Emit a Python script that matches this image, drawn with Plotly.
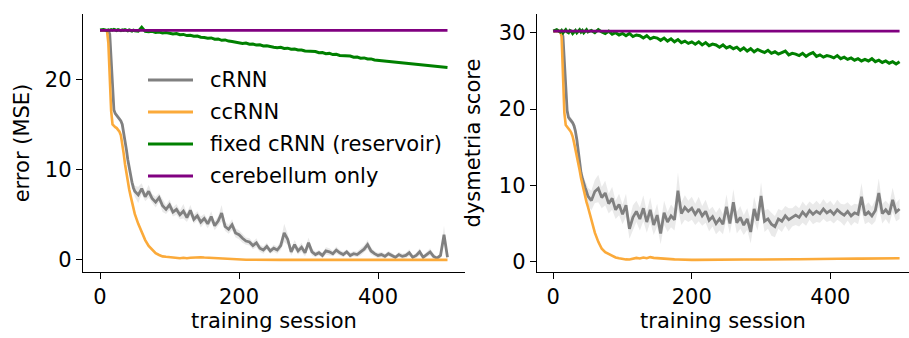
import plotly.graph_objects as go

# ---------------- data ----------------
session = [0, 5, 10] + list(range(12, 51, 2)) + list(range(55, 501, 5))

series_names = ["cRNN", "ccRNN", "fixed cRNN (reservoir)", "cerebellum only"]
series_colors = ["#808080", "#FBAA3A", "#008000", "#800080"]

# left panel: error (MSE)
crnn_err = [25.4, 25.4, 25.4, 25.4, 25.0, 22.0, 18.6, 16.6, 16.2, 16.0, 15.8, 15.6, 15.4, 15.0, 14.2, 13.2, 12.2, 11.1, 10.2, 9.4, 8.6, 8.0, 7.6,
            7.2, 7.9, 7.0, 7.6, 6.8, 6.4, 6.9, 6.0, 5.6, 6.1,
            5.3, 5.6, 5.0, 5.4, 4.7, 5.5, 4.5, 4.9, 4.2, 4.6,
            4.0, 4.8, 3.8, 4.3, 5.2, 3.7, 3.4, 3.9, 3.0, 2.8,
            2.4, 2.1, 2.0, 1.6, 1.9, 1.3, 1.1, 1.5, 1.0, 1.3,
            1.1, 1.6, 3.0, 2.3, 0.9, 1.7, 1.0, 1.4, 0.8, 1.9,
            0.9, 0.6, 0.8, 0.5, 1.0, 0.9, 0.7, 1.1, 0.8, 0.6,
            0.9, 0.5, 0.7, 0.6, 0.9, 1.2, 1.7, 1.0, 0.7, 0.5,
            0.6, 0.4, 0.7, 0.5, 0.3, 0.6, 0.4, 0.5, 0.8, 0.3,
            0.5, 0.9, 0.3, 0.6, 0.9, 0.4, 0.2, 0.5, 2.8, 0.3]
crnn_err_sd = [0.05, 0.05, 0.05, 0.1, 0.4, 0.6, 0.5, 0.4, 0.3, 0.3, 0.3, 0.3, 0.3, 0.3, 0.35, 0.35, 0.35, 0.4, 0.4, 0.4, 0.45, 0.5, 0.6,
               0.9, 0.6, 0.5, 0.7, 0.5, 0.6, 0.5, 0.7, 0.5, 0.6,
               0.5, 0.6, 0.5, 0.8, 0.5, 0.6, 0.5, 0.5, 0.6, 0.5,
               0.5, 0.6, 0.5, 0.5, 0.9, 0.5, 0.5, 0.6, 0.5, 0.5,
               0.5, 0.4, 0.4, 0.4, 0.5, 0.4, 0.4, 0.4, 0.3, 0.4,
               0.4, 0.5, 1.0, 0.6, 0.4, 0.5, 0.4, 0.5, 0.4, 0.6,
               0.4, 0.3, 0.3, 0.3, 0.4, 0.4, 0.3, 0.4, 0.3, 0.3,
               0.3, 0.3, 0.3, 0.3, 0.4, 0.4, 0.5, 0.4, 0.3, 0.3,
               0.3, 0.3, 0.3, 0.3, 0.2, 0.3, 0.3, 0.3, 0.4, 0.2,
               0.3, 0.4, 0.2, 0.3, 0.4, 0.3, 0.2, 0.3, 1.0, 0.2]
ccrnn_err = [25.4, 25.4, 25.4, 24.0, 20.0, 16.5, 15.0, 14.8, 14.7, 14.6, 14.4, 14.2, 13.8, 12.9, 11.8, 10.6, 9.5, 8.6, 7.8, 7.1, 6.4, 5.7, 5.1,
             4.0, 3.0, 2.2, 1.55, 1.1, 0.75, 0.55, 0.4, 0.35, 0.3,
             0.25, 0.22, 0.2, 0.24, 0.2, 0.25, 0.28, 0.33, 0.3, 0.27,
             0.25, 0.22, 0.2, 0.18, 0.15, 0.1, 0.06, 0.04, 0.03, 0.02,
             0.02, 0.02, 0.03, 0.02, 0.02, 0.01, 0.02, 0.02, 0.01, 0.02,
             0.02, 0.01, 0.02, 0.02, 0.01, 0.02, 0.01, 0.02, 0.02, 0.01,
             0.02, 0.01, 0.01, 0.02, 0.01, 0.01, 0.02, 0.01, 0.01, 0.01,
             0.01, 0.02, 0.01, 0.01, 0.01, 0.02, 0.01, 0.01, 0.01, 0.01,
             0.01, 0.01, 0.02, 0.01, 0.01, 0.01, 0.01, 0.02, 0.01, 0.01,
             0.01, 0.01, 0.01, 0.02, 0.01, 0.01, 0.01, 0.01, 0.02, 0.01]
fixed_err = [25.45, 25.5, 25.4, 25.48, 25.42, 25.5, 25.44, 25.52, 25.46, 25.4, 25.5, 25.45, 25.38, 25.47, 25.42, 25.5, 25.43, 25.37, 25.46, 25.41, 25.35, 25.44, 25.38,
             25.32, 25.75, 25.3, 25.26, 25.31, 25.19, 25.24, 25.13, 25.17, 25.08,
             25.03, 25.07, 24.93, 24.97, 24.84, 24.87, 24.76, 24.79, 24.66, 24.62,
             24.55, 24.58, 24.44, 24.47, 24.32, 24.36, 24.23, 24.19, 24.12, 24.02,
             23.97, 24.02, 23.88, 23.91, 23.79, 23.82, 23.69, 23.72, 23.6, 23.56,
             23.5, 23.54, 23.42, 23.45, 23.33, 23.35, 23.24, 23.25, 23.14, 23.1,
             23.04, 23.08, 22.95, 22.97, 22.84, 22.87, 22.74, 22.77, 22.64, 22.6,
             22.54, 22.58, 22.45, 22.47, 22.34, 22.37, 22.25, 22.26, 22.14, 22.1,
             22.05, 22.08, 21.97, 21.99, 21.89, 21.92, 21.82, 21.85, 21.74, 21.7,
             21.65, 21.68, 21.57, 21.6, 21.5, 21.52, 21.42, 21.44, 21.34, 21.3]
cereb_session = [0, 500]
cereb_err = [25.42, 25.42]

# right panel: dysmetria score
crnn_dys = [30.2, 30.2, 30.2, 30.2, 29.5, 26.5, 22.5, 19.8, 18.9, 18.7, 18.5, 18.2, 17.8, 17.1, 16.0, 14.5, 12.8, 11.7, 10.9, 10.2, 9.7, 9.2, 8.6,
            8.0, 9.2, 9.6, 8.4, 9.0, 7.6, 8.3, 6.8, 7.5, 6.2,
            7.4, 4.3, 5.8, 6.6, 5.6, 7.0, 5.2, 6.8, 4.8, 6.1,
            3.7, 6.4, 5.2, 6.0, 5.5, 9.3, 6.3, 7.1, 6.6, 7.0,
            6.2, 6.9, 6.0, 6.6, 5.4, 5.9, 5.0, 5.6, 4.9, 7.2,
            5.0, 7.8, 5.1, 5.8, 4.8, 5.6, 3.9, 6.9, 5.4, 8.6,
            5.3, 5.6, 4.9, 4.6, 5.6, 5.3, 6.0, 5.5, 5.8, 6.1,
            5.8, 6.5, 6.0, 6.7, 6.2, 6.6, 6.3, 6.9, 6.4, 6.7,
            6.2, 6.8, 6.4, 6.1, 6.6, 6.0, 6.4, 6.2, 8.5, 6.1,
            6.5, 6.0, 6.7, 9.0, 6.3, 6.8, 6.2, 8.1, 6.5, 6.9]
crnn_dys_sd = [0.1, 0.1, 0.1, 0.1, 0.5, 0.8, 0.7, 0.5, 0.4, 0.4, 0.4, 0.4, 0.4, 0.5, 0.5, 0.5, 0.6, 0.6, 0.7, 0.8, 0.9, 1.0, 1.1,
               1.3, 1.5, 1.8, 1.4, 1.6, 1.3, 1.5, 1.2, 1.4, 1.3,
               1.5, 1.3, 1.6, 1.4, 1.5, 1.7, 1.4, 1.6, 1.3, 1.5,
               1.4, 1.6, 1.3, 1.5, 1.4, 2.4, 1.5, 1.6, 1.4, 1.5,
               1.4, 1.6, 1.3, 1.5, 1.4, 1.3, 1.4, 1.5, 1.3, 1.6,
               1.3, 1.7, 1.4, 1.5, 1.3, 1.4, 1.5, 1.6, 1.3, 1.8,
               1.4, 1.3, 1.5, 1.4, 1.3, 1.4, 1.3, 1.5, 1.2, 1.3,
               1.2, 1.4, 1.3, 1.2, 1.3, 1.4, 1.2, 1.3, 1.2, 1.3,
               1.2, 1.3, 1.2, 1.4, 1.2, 1.3, 1.2, 1.3, 1.8, 1.2,
               1.3, 1.2, 1.4, 1.9, 1.3, 1.2, 1.3, 1.6, 1.2, 1.3]
ccrnn_dys = [30.2, 30.2, 30.2, 29.5, 24.5, 19.5, 17.9, 17.7, 17.5, 17.2, 16.9, 16.4, 15.6, 14.8, 13.8, 12.9, 12.0, 11.0, 10.1, 9.3, 8.6, 7.8, 7.2,
             5.4, 3.8, 2.6, 1.7, 1.25, 1.0, 0.75, 0.55, 0.45, 0.35,
             0.3, 0.28, 0.35, 0.5, 0.42, 0.55, 0.45, 0.6, 0.5, 0.45,
             0.4, 0.38, 0.35, 0.32, 0.3, 0.28, 0.25, 0.25, 0.24, 0.24,
             0.24, 0.25, 0.24, 0.25, 0.25, 0.26, 0.25, 0.26, 0.27, 0.27,
             0.27, 0.28, 0.27, 0.28, 0.29, 0.28, 0.29, 0.3, 0.29, 0.3,
             0.3, 0.31, 0.3, 0.31, 0.32, 0.31, 0.32, 0.33, 0.32, 0.33,
             0.33, 0.34, 0.34, 0.35, 0.35, 0.36, 0.35, 0.36, 0.37, 0.37,
             0.37, 0.38, 0.38, 0.39, 0.39, 0.4, 0.4, 0.41, 0.4, 0.41,
             0.42, 0.41, 0.43, 0.42, 0.44, 0.43, 0.45, 0.44, 0.46, 0.46]
fixed_dys = [30.2, 30.4, 30.1, 30.3, 30.0, 30.2, 30.4, 30.1, 30.0, 30.3, 30.2, 29.9, 30.1, 30.3, 30.0, 30.2, 30.4, 30.1, 30.3, 30.0, 30.2, 30.4, 30.1,
             30.3, 30.0, 30.4, 30.1, 29.9, 30.2, 29.8, 30.0, 29.7, 29.9,
             29.6, 29.9, 29.5, 29.7, 29.6, 29.3, 29.6, 29.2, 29.4, 29.3,
             29.0, 29.3, 28.9, 29.2, 28.8, 29.1, 28.7, 28.9, 28.6, 28.8,
             28.5, 28.8, 28.4, 28.7, 28.3, 28.5, 28.4, 28.1, 28.4, 28.0,
             28.2, 27.9, 28.1, 27.7, 28.0, 27.6, 27.9, 27.5, 27.8, 27.6,
             27.4, 27.7, 27.3, 27.5, 27.2, 27.4, 27.6, 27.1, 27.3, 27.2,
             27.0, 27.3, 26.9, 27.2, 27.4, 26.9, 27.1, 26.8, 27.0, 26.9,
             26.7, 27.0, 26.6, 26.8, 26.5, 26.7, 26.4, 26.6, 26.3, 26.5,
             26.3, 26.6, 26.2, 26.4, 26.1, 26.3, 26.0, 26.2, 25.9, 26.2]
cereb_dys = [30.2, 30.2]

x_ticks = [0, 200, 400]
err_ticks = [0, 10, 20]
dys_ticks = [0, 10, 20, 30]

# ---------------- figure ----------------
FONT = "DejaVu Sans"
FS = 21
BAND = "rgba(150,150,150,0.2)"

fig = go.Figure()


def add_panel(xa, ya, crnn, crnn_sd, ccrnn, fixed, cereb):
    upper = [m + s for m, s in zip(crnn, crnn_sd)]
    lower = [m - s for m, s in zip(crnn, crnn_sd)]
    fig.add_trace(go.Scatter(x=session + session[::-1], y=upper + lower[::-1],
                             fill="toself", fillcolor=BAND, line=dict(width=0),
                             hoverinfo="skip", showlegend=False, xaxis=xa, yaxis=ya))
    fig.add_trace(go.Scatter(x=session, y=crnn, mode="lines",
                             line=dict(color=series_colors[0], width=2.8),
                             showlegend=False, xaxis=xa, yaxis=ya))
    fig.add_trace(go.Scatter(x=session, y=ccrnn, mode="lines",
                             line=dict(color=series_colors[1], width=2.6),
                             showlegend=False, xaxis=xa, yaxis=ya))
    fig.add_trace(go.Scatter(x=session, y=fixed, mode="lines",
                             line=dict(color=series_colors[2], width=3.0),
                             showlegend=False, xaxis=xa, yaxis=ya))
    fig.add_trace(go.Scatter(x=cereb_session, y=cereb, mode="lines",
                             line=dict(color=series_colors[3], width=2.8),
                             showlegend=False, xaxis=xa, yaxis=ya))


add_panel("x", "y", crnn_err, crnn_err_sd, ccrnn_err, fixed_err, cereb_err)
add_panel("x2", "y2", crnn_dys, crnn_dys_sd, ccrnn_dys, fixed_dys, cereb_dys)

# plot-area geometry (pixels)
L, R, T, B = 83, 0, 14, 66
W, H = 909, 338
PW = W - L - R
PH = H - T - B
left_dom = [0, (465 - L) / PW]
right_dom = [(537 - L) / PW, 1.0]

axis_common = dict(showline=True, linecolor="black", linewidth=1.4, ticks="outside",
                   ticklen=6, tickwidth=1.4, tickcolor="black", showgrid=False,
                   zeroline=False, tickfont=dict(family=FONT, size=FS, color="black"),
                   mirror=False)

fig.update_layout(
    width=W, height=H,
    margin=dict(l=L, r=R, t=T, b=B, pad=0),
    plot_bgcolor="white", paper_bgcolor="white",
    font=dict(family=FONT, size=FS, color="black"),
    showlegend=False,
    xaxis=dict(domain=left_dom, range=[-24.5, 525.2], tickvals=x_ticks, anchor="y",
               title=dict(text="training session", font=dict(family=FONT, size=FS), standoff=4),
               **axis_common),
    yaxis=dict(domain=[0, 1], range=[-1.33, 27.23], tickvals=err_ticks, anchor="x",
               title=dict(text="error (MSE)", font=dict(family=FONT, size=FS), standoff=9),
               **axis_common),
    xaxis2=dict(domain=right_dom, range=[-23.5, 513.6], tickvals=x_ticks, anchor="y2",
                title=dict(text="training session", font=dict(family=FONT, size=FS), standoff=4),
                **axis_common),
    yaxis2=dict(domain=[0, 1], range=[-1.35, 32.45], tickvals=dys_ticks, anchor="x2",
                title=dict(text="dysmetria score", font=dict(family=FONT, size=FS), standoff=12),
                **axis_common),
)

# legend (drawn in the left panel's domain coordinates)
legend_rows_px = [80, 112, 144, 176]
ax_w = 465 - L
for name, color, py in zip(series_names, series_colors, legend_rows_px):
    yd = (272 - py) / PH
    fig.add_shape(type="line", xref="x domain", yref="y domain",
                  x0=(148 - L) / ax_w, x1=(193 - L) / ax_w, y0=yd, y1=yd,
                  line=dict(color=color, width=2.8))
    fig.add_annotation(xref="x domain", yref="y domain", x=(208 - L) / ax_w, y=yd,
                       text=name, showarrow=False, xanchor="left", yanchor="middle",
                       font=dict(family=FONT, size=FS, color="black"))

fig.write_html("out.html", config={"displayModeBar": False},
               post_script="document.body.style.margin='0';document.body.style.overflow='hidden';")
